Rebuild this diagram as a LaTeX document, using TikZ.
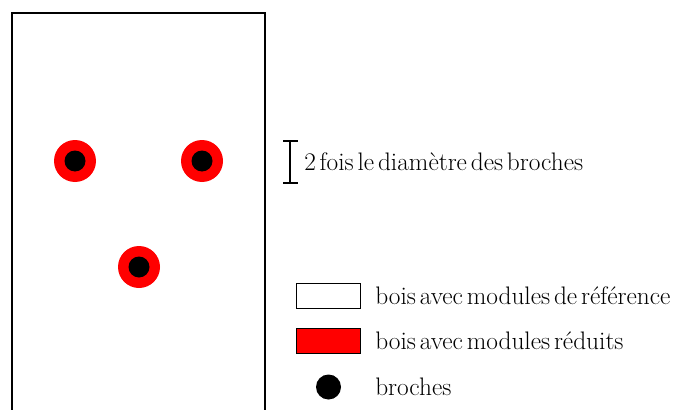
\documentclass[tikz,border=0pt]{standalone}
\usepackage{fontspec}
\newlength{\pxu}
\setlength{\pxu}{0.75pt}
\newcommand{\lblfont}{\fontsize{19}{22}\selectfont\spaceskip=0.5\fontdimen2\font\relax}
\tikzset{
  pinred/.style={circle, fill=red, minimum size=42\pxu, inner sep=0pt},
  pinblack/.style={circle, fill=black, minimum size=21\pxu, inner sep=0pt},
  legendbox/.style={draw=black, line width=1pt, minimum width=64\pxu, minimum height=25\pxu, inner sep=0pt},
  lbl/.style={anchor=west, inner sep=0pt, font=\lblfont},
}
\begin{document}
\begin{tikzpicture}[x=0.75pt, y=-0.75pt]
\useasboundingbox (0,0) rectangle (674,410);
\clip (0,0) rectangle (674,410);
% wood piece
\draw[line width=1pt] (12,420) -- (12,13) -- (265,13) -- (265,420);
% pins
\node[pinred] (r1) at (75,161) {};
\node[pinblack] (b1) at (r1) {};
\node[pinred] (r2) at (202,161) {};
\node[pinblack] (b2) at (r2) {};
\node[pinred] (r3) at (139,267) {};
\node[pinblack] (b3) at (r3) {};
% scale bar
\coordinate (st) at (290,141);
\coordinate (sb) at (290,183);
\draw[line width=1pt] (st) -- (sb);
\draw[line width=1pt] ([xshift=-7\pxu]st) -- ([xshift=8\pxu]st);
\draw[line width=1pt] ([xshift=-7\pxu]sb) -- ([xshift=8\pxu]sb);
\node[lbl] (scl) at (304,162) {2 fois le diamètre des broches};
% legend
\node[legendbox, fill=white] (lw) at (328.5,296) {};
\node[legendbox, fill=red] (lr) at (328.5,341) {};
\node[circle, fill=black, minimum size=25\pxu, inner sep=0pt] (lb) at (328.5,387) {};
\node[lbl] (tw) at (375,296) {bois avec modules de référence};
\node[lbl] (tr) at (375,341) {bois avec modules réduits};
\node[lbl] (tb) at (375,387) {broches};
\end{tikzpicture}
\end{document}
